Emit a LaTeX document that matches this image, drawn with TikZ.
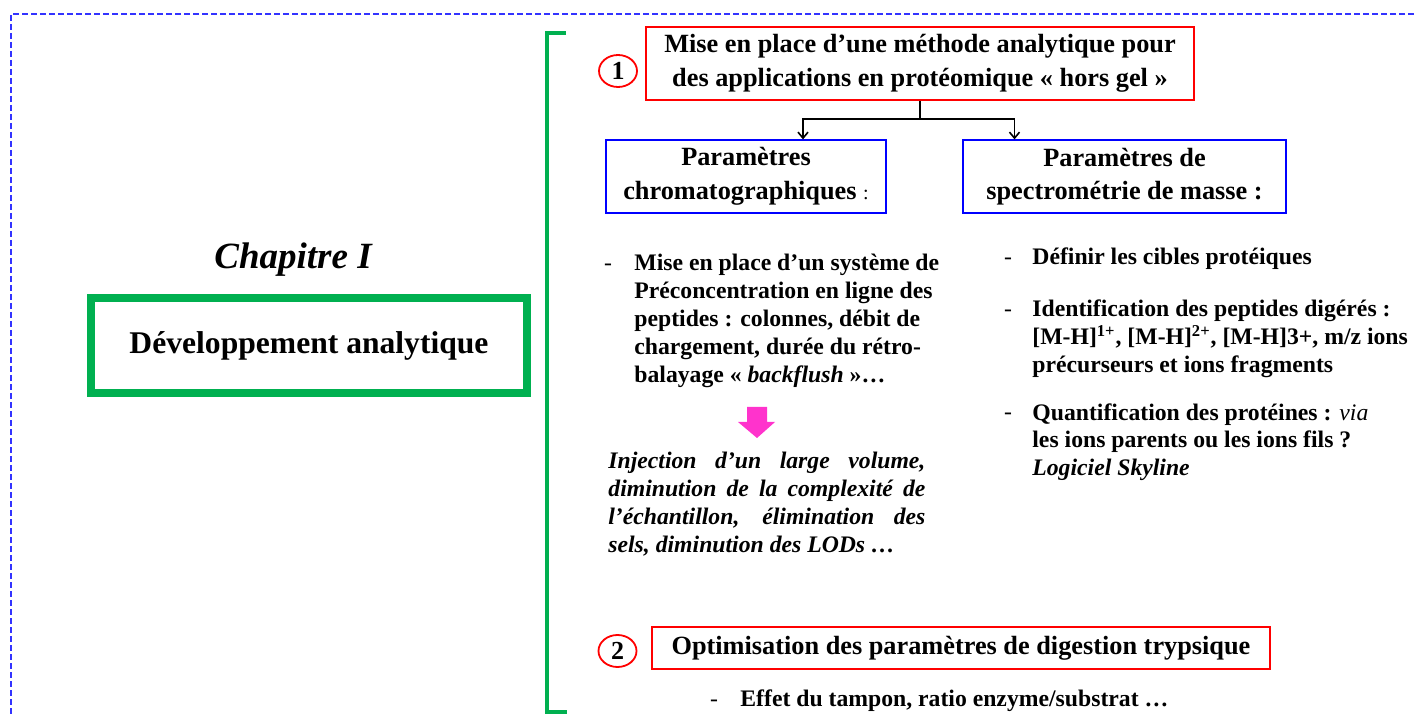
\documentclass[tikz,border=0pt]{standalone}
\usepackage{fontspec}
\setmainfont{Liberation Serif}
\usetikzlibrary{arrows.meta,calc,shapes.geometric}
\definecolor{chapGreen}{HTML}{00B050}
\definecolor{stepRed}{HTML}{FF0000}
\definecolor{paramBlue}{HTML}{0000FF}
\definecolor{frameBlue}{HTML}{3333FF}
\definecolor{resultPink}{HTML}{FF33CC}

\begin{document}
\begin{tikzpicture}[x=0.5pt, y=-0.5pt, >={Straight Barb[length=3pt,width=5pt]},
    stepbox/.style={draw=stepRed, line width=0.9pt, inner sep=0pt, align=center,
      font=\bfseries\fontsize{13.15}{16.8}\selectfont},
    parambox/.style={draw=paramBlue, line width=0.6pt, inner sep=0pt, align=center,
      minimum height=36.5pt, font=\bfseries\fontsize{13.15}{16.8}\selectfont},
    stepnum/.style={draw=stepRed, line width=0.9pt, ellipse, inner sep=0pt,
      minimum width=19pt, minimum height=16pt, font=\bfseries\fontsize{13}{15}\selectfont},
    item/.style={anchor=base west, inner sep=0pt, align=left,
      font=\bfseries\fontsize{11.85}{14}\selectfont},
    dashmark/.style={anchor=base, inner sep=0pt, font=\fontsize{11.85}{14}\selectfont},
    link/.style={line width=0.8pt}]
  \useasboundingbox (0,0) rectangle (1414,716);
  % page frame and bracket
  \draw[frameBlue, line width=0.7pt, dash pattern=on 3pt off 1.5pt] (1414,14) -- (11,14) -- (11,716);
  \draw[chapGreen, line width=2pt] (566,33) -- (547,33) -- (547,712) -- (567,712);
  % chapter title
  \node[anchor=base, font=\bfseries\itshape\fontsize{18.5}{22}\selectfont] (chap) at (293,269) {Chapitre I};
  \node[draw=chapGreen, line width=4pt, minimum width=218pt, minimum height=47.5pt,
    font=\bfseries\fontsize{15.8}{19}\selectfont] (devbox) at (309,345.5) {Développement analytique};
  % step 1
  \node[stepnum] (num1) at (618,71) {1};
  \node[stepbox, minimum width=274pt, minimum height=36.5pt] (methode) at (920,63.5)
    {Mise en place d’une méthode analytique pour\\des applications en protéomique «~hors gel~»};
  \node[parambox, minimum width=140pt] (chrom) at (746,176.5)
    {Paramètres\\chromatographiques {\mdseries\fontsize{10}{12}\selectfont :}};
  \node[parambox, minimum width=161.5pt] (spectro) at (1124.5,176.5)
    {Paramètres de\\spectrométrie de masse :};
  \coordinate (fork) at ($(methode.south)+(0,18)$);
  \draw[link] (methode.south) -- (fork);
  \draw[link, ->] (fork) -| ([xshift=28.5pt]chrom.north);
  \draw[link, ->] (fork) -| ([xshift=-55pt]spectro.north);
  % chromatography column (base = last line)
  \node[dashmark] (preconDash) at (608,271) {-};
  \node[item] (precon) at (634,383) {Mise en place d’un système de\\Préconcentration en ligne des\\peptides : colonnes, débit de\\chargement, durée du rétro-\\balayage «~\textit{backflush}~»…};
  \fill[resultPink] (747,407) -- (767,407) -- (767,422) -- (775,422) -- (757,438) -- (738,422) -- (747,422) -- cycle;
  \node[anchor=base west, inner sep=0pt, text width=158.5pt, align=justify,
    font=\bfseries\itshape\fontsize{11.85}{14}\selectfont] (gains) at (608,469)
    {Injection d’un large volume,\linebreak diminution de la complexité de\linebreak l’échantillon, élimination des\linebreak sels, diminution des LODs …};
  % mass spectrometry column
  \node[dashmark] (targetDash) at (1008,265) {-};
  \node[item] (targets) at (1032,265) {Définir les cibles protéiques};
  \node[dashmark] (identDash) at (1008,317) {-};
  \node[item] (ident) at (1032,373) {Identification des peptides digérés :\\{[M-H]\textsuperscript{1+}, [M-H]\textsuperscript{2+}, [M-H]3+, m/z ions}\\précurseurs et ions fragments};
  \node[dashmark] (quantDash) at (1008,420) {-};
  \node[item] (quant) at (1032,476) {Quantification des protéines : {\mdseries\itshape via}\\les ions parents ou les ions fils ?\\\textit{Logiciel Skyline}};
  % step 2
  \node[stepnum] (num2) at (617.5,651) {2};
  \node[stepbox, minimum width=309pt, minimum height=21pt] (digest) at (961,648)
    {Optimisation des paramètres de digestion trypsique};
  \node[dashmark] (bufferDash) at (714,706) {-};
  \node[item] (buffer) at (740,706) {Effet du tampon, ratio enzyme/substrat …};
\end{tikzpicture}
\end{document}
